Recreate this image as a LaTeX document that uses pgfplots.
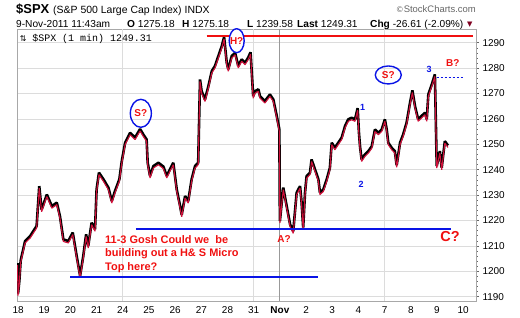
\documentclass[border=0pt]{standalone}
\usepackage{pgfplots}
\pgfplotsset{compat=1.18}
\usepackage{fontspec}
\setmainfont{Liberation Sans}
\newfontfamily\monofont{Liberation Mono}
\newfontfamily\symfont{DejaVu Sans}
\definecolor{barred}{HTML}{D0103A}
\definecolor{annblue}{HTML}{0A14E6}
\definecolor{annred}{HTML}{F01010}
\definecolor{gridc}{HTML}{DCDCDC}
\definecolor{framec}{HTML}{A8A8A8}
\definecolor{darkred}{HTML}{800020}
\pgfplotstableread{
x y
-0.02 1203
0.00 1191
0.05 1196
0.10 1204
0.27 1211.7
0.46 1213.6
0.71 1217.6
0.81 1233.3
0.90 1224
1.10 1230
1.29 1225.4
1.48 1226.8
1.60 1221.5
1.73 1212.3
1.92 1211.7
2.09 1215
2.24 1205.7
2.37 1198.0
2.49 1205.7
2.60 1214.3
2.68 1209.7
2.81 1218.9
2.94 1216.3
3.00 1232
3.09 1238.6
3.26 1236
3.45 1232.7
3.58 1227.4
3.70 1231.3
3.87 1236
3.96 1243
4.09 1250.4
4.28 1254.3
4.47 1252.4
4.66 1255.8
4.78 1253.7
4.91 1251.7
4.95 1242.6
5.04 1237.3
5.17 1241.2
5.36 1242.5
5.55 1241
5.68 1237.3
5.80 1239.9
5.93 1242.5
6.06 1232
6.19 1225.4
6.25 1222
6.38 1229.4
6.50 1227.4
6.63 1236
6.76 1241.2
6.88 1242.5
6.95 1275.3
7.01 1270.7
7.14 1267.4
7.27 1272.7
7.40 1278.6
7.52 1280.6
7.65 1284.5
7.78 1288.4
7.87 1292
7.97 1281.9
8.03 1279.3
8.16 1284.5
8.29 1285.8
8.41 1280.6
8.54 1283.2
8.67 1281.9
8.79 1283.9
8.88 1286
8.98 1268.7
9.05 1270.7
9.18 1271.4
9.24 1268.7
9.43 1266.8
9.62 1269.4
9.75 1267.4
9.88 1260.9
9.98 1255.6
10.00 1219.5
10.07 1226.8
10.13 1232.7
10.26 1225.4
10.39 1218.2
10.51 1215.5
10.64 1230.7
10.77 1233.3
10.83 1226.8
10.89 1217.0
10.96 1230.7
11.02 1237.2
11.15 1238.6
11.21 1243.8
11.34 1239.9
11.47 1236
11.53 1230.7
11.66 1232
11.79 1236
11.91 1240.5
11.98 1250.4
12.10 1248.4
12.23 1250.4
12.36 1252.4
12.49 1257
12.61 1259.6
12.74 1260.2
12.87 1259.6
12.97 1264
13.02 1254.3
13.06 1249
13.12 1243.8
13.25 1245.8
13.38 1247.1
13.51 1249
13.63 1255.6
13.76 1254.3
13.89 1255.6
14.01 1259.6
14.08 1255.6
14.14 1250.4
14.27 1248.4
14.39 1247.1
14.46 1241.5
14.59 1250.4
14.71 1253.7
14.84 1258.3
14.97 1266.1
15.06 1271
15.16 1264.8
15.28 1259.6
15.41 1260.9
15.54 1262.2
15.61 1259.6
15.67 1269.4
15.80 1273.3
15.92 1277.3
15.99 1241.2
16.11 1247.1
16.18 1240.5
16.30 1251
16.42 1249.3
}\spx
\begin{document}
\begin{tikzpicture}
\useasboundingbox (-17bp,-17bp) rectangle (503bp,301bp);
% header
\node[anchor=base west, inner sep=0, font=\bfseries\fontsize{13}{15}\selectfont] at (-1bp,287bp) {\$SPX};
\node[anchor=base west, inner sep=0, font=\fontsize{10.5}{12}\selectfont] at (36bp,287bp) {(S\&P 500 Large Cap Index) INDX};
\node[anchor=base east, inner sep=0, text=black!60, font=\fontsize{9.5}{11}\selectfont] at (459bp,288bp) {{\symfont\fontsize{8}{10}\selectfont ©}StockCharts.com};
\begin{scope}[font=\fontsize{10.2}{12}\selectfont]
\node[anchor=base west, inner sep=0] at (-1bp,273.5bp) {9-Nov-2011 11:43am};
\node[anchor=base west, inner sep=0] at (110bp,273.5bp) {\textbf{O} 1275.18};
\node[anchor=base west, inner sep=0] at (165bp,273.5bp) {\textbf{H} 1275.18};
\node[anchor=base west, inner sep=0] at (230bp,273.5bp) {\textbf{L} 1239.58};
\node[anchor=base west, inner sep=0] at (280bp,273.5bp) {\textbf{Last} 1249.31};
\node[anchor=base west, inner sep=0] at (353bp,273.5bp) {\textbf{Chg} -26.61 (-2.09\%)};
\node[anchor=base west, inner sep=0, text=darkred] at (450bp,274.5bp) {\symfont\fontsize{7}{8}\selectfont ▼};
\end{scope}
\begin{axis}[
 at={(0,0)}, anchor=south west,
 scale only axis, width=459bp, height=272bp,
 xmin=-0.04, xmax=17.49, ymin=1188.3, ymax=1295.4,
 axis line style={framec, line width=0.8bp},
 xtick={0,...,17},
 xticklabels={18,19,20,21,24,25,26,27,28,31,\textbf{Nov},2,3,4,7,8,9,10},
 x tick style={draw=none},
 x tick label style={font=\fontsize{10}{12}\selectfont, yshift=1bp},
 extra x ticks={4,9,14},
 extra x tick labels={},
 extra x tick style={grid=major, x tick style={draw=none}},
 ytick={1190,1200,...,1290},
 ytick pos=right, yticklabel pos=right,
 y tick label style={font=\fontsize{10}{12}\selectfont, xshift=0bp},
 ymajorgrids,
 grid style={gridc, line width=0.7bp},
 minor y tick num=4,
 tick align=outside,
 major tick length=3bp, minor tick length=1.5bp,
 y tick style={black!60, line width=0.5bp},
 /pgf/number format/.cd, 1000 sep={}, assume math mode=true,
]
\draw[black!40, line width=0.8bp] (axis cs:10,1188.3) -- (axis cs:10,1295.4);
% price
\addplot[black, line width=2.6bp, line join=bevel, yshift=0.6bp] table {\spx};
\addplot[barred, line width=1.1bp, yshift=-1.4bp, line join=bevel] table {\spx};
% annotation lines
\addplot[annred, line width=2bp] coordinates {(7.2,1292.7) (17.38,1292.7)};
\addplot[annblue, line width=2bp] coordinates {(4.5,1216.7) (16.52,1216.7)};
\addplot[annblue, line width=2bp] coordinates {(1.99,1197.6) (11.47,1197.6)};
\addplot[annblue, line width=0.9bp, dashed, dash pattern=on 2.5bp off 1.5bp] coordinates {(15.99,1276.4) (17.0,1276.4)};
% ellipses
\draw[annblue, line width=1.4bp, fill=white] (axis cs:8.35,1290.8) ellipse [x radius=7.5bp, y radius=12bp];
\node[text=annred, font=\bfseries\fontsize{10}{12}\selectfont] at (axis cs:8.35,1290.8) {H?};
\draw[annblue, line width=1.4bp] (axis cs:4.69,1262.2) ellipse [x radius=10.5bp, y radius=14bp];
\node[text=annred, font=\bfseries\fontsize{10}{12}\selectfont] at (axis cs:4.69,1262.2) {S?};
\draw[annblue, line width=1.4bp] (axis cs:14.14,1277.3) ellipse [x radius=13bp, y radius=9bp];
\node[text=annred, font=\bfseries\fontsize{10}{12}\selectfont] at (axis cs:14.14,1277.3) {S?};
% wave labels
\node[text=annblue, font=\bfseries\fontsize{9}{11}\selectfont] at (axis cs:13.16,1264.6) {1};
\node[text=annblue, font=\bfseries\fontsize{9}{11}\selectfont] at (axis cs:13.1,1234.4) {2};
\node[text=annblue, font=\bfseries\fontsize{9}{11}\selectfont] at (axis cs:15.7,1279.5) {3};
\node[text=annred, font=\bfseries\fontsize{10}{12}\selectfont] at (axis cs:16.6,1281.9) {B?};
\node[text=annred, font=\bfseries\fontsize{10}{12}\selectfont] at (axis cs:10.16,1212.7) {A?};
\node[text=annred, font=\bfseries\fontsize{14.5}{16}\selectfont] at (axis cs:16.5,1213.6) {C?};
% comment text
\node[anchor=base west, inner sep=0, text=annred, font=\bfseries\fontsize{11}{13}\selectfont] at (axis cs:3.32,1211) {11-3 Gosh Could we\ \ be};
\node[anchor=base west, inner sep=0, text=annred, font=\bfseries\fontsize{11}{13}\selectfont] at (axis cs:3.32,1205.75) {building out a H\& S Micro};
\node[anchor=base west, inner sep=0, text=annred, font=\bfseries\fontsize{11}{13}\selectfont] at (axis cs:3.32,1200.5) {Top here?};
% inner label
\node[anchor=base west, inner sep=0, font=\monofont\fontsize{10}{12}\selectfont] at (rel axis cs:0.033,0.955) {\$SPX (1 min) 1249.31};
\node[anchor=base west, inner sep=0, font=\symfont\fontsize{8}{10}\selectfont] at (rel axis cs:0.006,0.955) {⇅};
\end{axis}
\end{tikzpicture}
\end{document}
